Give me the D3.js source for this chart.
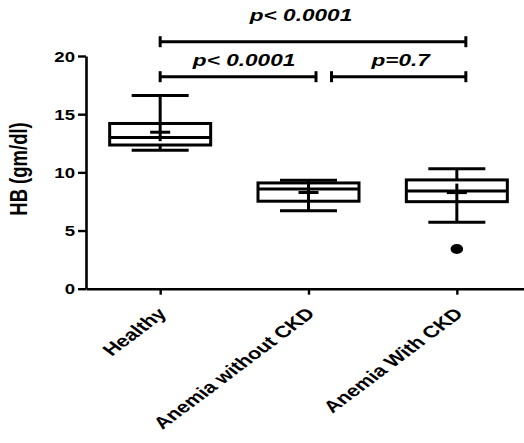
<!DOCTYPE html>
<html><head><meta charset="utf-8">
<script src="https://cdn.jsdelivr.net/npm/d3@7"></script>
<style>
body{margin:0;background:#fff}
svg{display:block}
text{font-family:"Liberation Sans",Arial,Helvetica,sans-serif;font-weight:bold;fill:#000}
</style>
</head><body>
<svg id="chart" width="524" height="443"></svg>
<script>
// ---- data ----
const categories   = ["Healthy", "Anemia without CKD", "Anemia With CKD"];
const whiskerLow   = [11.9, 6.7, 5.71];
const q1           = [12.35, 7.52, 7.48];
const median       = [13.0, 8.56, 8.4];
const q3           = [14.2, 9.09, 9.35];
const whiskerHigh  = [16.6, 9.33, 10.3];
const mean         = [13.45, 8.27, 8.26];
const outliers     = [[], [], [3.41]];
const yTicks       = [0, 5, 10, 15, 20];
const yLabel       = "HB (gm/dl)";
const compFrom     = ["Healthy", "Anemia without CKD", "Healthy"];
const compTo       = ["Anemia without CKD", "Anemia With CKD", "Anemia With CKD"];
const compLabel    = ["p< 0.0001", "p=0.7", "p< 0.0001"];
const compLevel    = [1, 1, 2];

// ---- layout ----
const SX = 1.33; // horizontal stretch of text
const svg = d3.select("#chart");
const x = d3.scalePoint().domain(categories).range([86, 531]).padding(0.5);
const y = d3.scaleLinear().domain([0, 20]).range([288.7, 56]);

const boxHalf = 50.5, capHalf = 28.5, meanHalfW = 10, meanHalfH = 9;
const lw = 3;

// axes
const gy = svg.append("g").attr("transform", "translate(86,0)")
  .call(d3.axisLeft(y).tickValues(yTicks).tickSize(8).tickSizeOuter(0).tickFormat(d3.format("d")));
gy.select(".domain").attr("stroke-width", 2.6);
gy.selectAll(".tick line").attr("stroke-width", 2.4);
gy.selectAll(".tick text").attr("x", -11 / SX).attr("dy", "0.36em")
  .attr("transform", `scale(${SX},1)`).style("font-size", "14px").style("font-weight", "bold")
  .style("font-family", '"Liberation Sans",Arial,sans-serif');

const gx = svg.append("g").attr("transform", `translate(0,${y(0)})`)
  .call(d3.axisBottom(x).tickSize(6).tickSizeOuter(0));
gx.select(".domain").attr("stroke-width", 2.6);
gx.selectAll(".tick line").attr("stroke-width", 2.4);
gx.selectAll(".tick text")
  .attr("x", null).attr("y", null).attr("dy", null)
  .attr("text-anchor", "end")
  .attr("transform", `translate(7,26) scale(${SX},1) rotate(-45)`)
  .style("font-size", "16.5px").style("font-weight", "bold")
  .style("font-family", '"Liberation Sans",Arial,sans-serif');

// y label
svg.append("text")
  .attr("transform", `translate(27,169) scale(${SX},1) rotate(-90)`)
  .attr("text-anchor", "middle")
  .style("font-size", "18.5px")
  .text(yLabel);

// boxes
const g = svg.append("g").attr("stroke", "#000").attr("stroke-width", lw).attr("fill", "none");
categories.forEach((c, i) => {
  const cx = x(c);
  g.append("line").attr("x1", cx).attr("x2", cx).attr("y1", y(whiskerHigh[i])).attr("y2", y(q3[i]));
  g.append("line").attr("x1", cx).attr("x2", cx).attr("y1", y(q1[i])).attr("y2", y(whiskerLow[i]));
  g.append("line").attr("x1", cx - capHalf).attr("x2", cx + capHalf).attr("y1", y(whiskerHigh[i])).attr("y2", y(whiskerHigh[i]));
  g.append("line").attr("x1", cx - capHalf).attr("x2", cx + capHalf).attr("y1", y(whiskerLow[i])).attr("y2", y(whiskerLow[i]));
  g.append("rect").attr("x", cx - boxHalf).attr("width", 2 * boxHalf)
    .attr("y", y(q3[i])).attr("height", y(q1[i]) - y(q3[i])).attr("fill", "#fff");
  g.append("line").attr("x1", cx - boxHalf).attr("x2", cx + boxHalf).attr("y1", y(median[i])).attr("y2", y(median[i]));
  g.append("line").attr("x1", cx - meanHalfW).attr("x2", cx + meanHalfW).attr("y1", y(mean[i])).attr("y2", y(mean[i]));
  g.append("line").attr("x1", cx).attr("x2", cx).attr("y1", y(mean[i]) - meanHalfH).attr("y2", y(mean[i]) + meanHalfH);
  outliers[i].forEach(v => {
    svg.append("ellipse").attr("cx", cx).attr("cy", y(v)).attr("rx", 6.3).attr("ry", 5).attr("fill", "#000");
  });
});

// significance bars
const mid = categories[1];
const sg = svg.append("g");
compFrom.forEach((a, i) => {
  const b = compTo[i];
  const x1 = x(a) + (a === mid ? 23 : 0);
  const x2 = x(b) + (b === mid ? 7.5 : 9);
  const top = compLevel[i] === 2;
  const by = y(20) + (top ? -14.3 : 20.7);
  const cap = 5.5;
  sg.append("line").attr("x1", x1).attr("x2", x2).attr("y1", by).attr("y2", by).attr("stroke", "#000").attr("stroke-width", lw);
  [x1, x2].forEach(xx => sg.append("line").attr("x1", xx).attr("x2", xx).attr("y1", by - cap).attr("y2", by + cap)
    .attr("stroke", "#000").attr("stroke-width", lw));
  const ty = by - (top ? 20.7 : 10.7);
  const tx = (x1 + x2) / 2 + (top ? -12 : (a === mid ? 2 : 6));
  sg.append("text")
    .attr("transform", `translate(${tx},${ty}) scale(${SX},1)`)
    .attr("text-anchor", "middle")
    .style("font-size", "17px").style("font-style", "italic")
    .text(compLabel[i]);
});
</script>
</body></html>
